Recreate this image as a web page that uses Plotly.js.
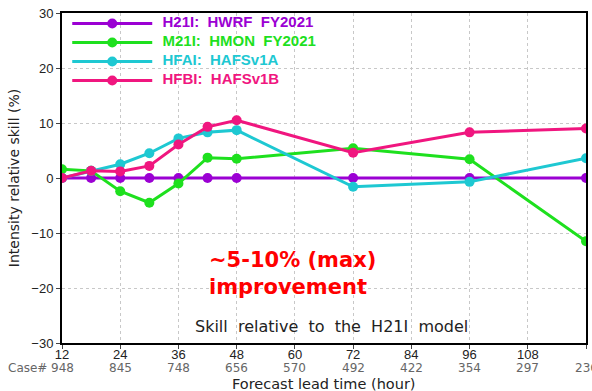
<!DOCTYPE html>
<html><head><meta charset="utf-8">
<script src="https://cdn.plot.ly/plotly-3.0.1.min.js"></script>
<style>html,body{margin:0;padding:0;background:#fff}#c{width:592px;height:391px}</style>
</head><body><div id="c"></div>
<script>
const hours = [12, 18, 24, 30, 36, 42, 48, 72, 96, 120];
const h21i = [0, 0, 0, 0, 0, 0, 0, 0, 0, 0];
const m21i = [1.6, 1.3, -2.4, -4.5, -1.0, 3.7, 3.5, 5.4, 3.4, -11.5];
const hfai = [0, 1.3, 2.5, 4.5, 7.2, 8.3, 8.7, -1.6, -0.7, 3.6];
const hfbi = [0, 1.3, 1.2, 2.2, 6.1, 9.3, 10.5, 4.6, 8.3, 9.0];
const names = ['H21I:  HWRF  FY2021', 'M21I:  HMON  FY2021', 'HFAI:  HAFSv1A', 'HFBI:  HAFSv1B'];
const colors = ['#9b00d3', '#1ee01e', '#1ec8d2', '#f0167f'];
const caseHours = [12, 24, 36, 48, 60, 72, 84, 96, 108, 120];
const caseCounts = [948, 845, 748, 656, 570, 492, 422, 354, 297, 236];

const series = [h21i, m21i, hfai, hfbi];
const font = 'Liberation Sans, Arial, sans-serif';
const wide = 'DejaVu Sans, sans-serif';
const data = series.map((ys, i) => ({
  x: hours, y: ys, type: 'scatter', mode: 'lines+markers',
  name: '&nbsp;&nbsp;<span style="font-size:15px;font-weight:bold;color:' + colors[i] + '">' +
        names[i].replace(/ /g, '&nbsp;') + '</span>',
  line: {color: colors[i], width: 3},
  marker: {color: colors[i], size: 10}
}));

const annotations = caseHours.map((h, i) => ({
  x: h, xref: 'x', y: -30, yref: 'y', yshift: -25, text: String(caseCounts[i]),
  showarrow: false, font: {family: wide, size: 12, color: '#666'}, xanchor: 'center'
}));
annotations.push({x: 12, xref: 'x', y: -30, yref: 'y', yshift: -25, xshift: -13, text: 'Case#',
  showarrow: false, xanchor: 'right', font: {family: wide, size: 12, color: '#666'}});
annotations.push({x: 0.5, xref: 'paper', y: -30, yref: 'y', yshift: -41,
  text: 'Forecast lead time (hour)', showarrow: false, font: {family: wide, size: 14.5, color: '#222'}});
annotations.push({x: 0.515, xref: 'paper', y: -27, yref: 'y',
  text: 'Skill&nbsp;&nbsp;relative&nbsp;&nbsp;to&nbsp;&nbsp;the&nbsp;&nbsp;H21I&nbsp;&nbsp;model',
  showarrow: false, font: {family: wide, size: 16, color: '#222'}});
annotations.push({x: 41.8, xref: 'x', y: -17.4, yref: 'y', xanchor: 'left', align: 'left',
  text: '<b>~5-10% (max)<br>improvement</b>', showarrow: false,
  font: {family: wide, size: 21, color: '#ff0000'}});

const layout = {
  width: 592, height: 391,
  margin: {l: 62, r: 6, t: 13, b: 48},
  paper_bgcolor: '#fff', plot_bgcolor: '#fff',
  font: {family: font, size: 13, color: '#222'},
  showlegend: true,
  legend: {x: 0.01, y: 1.012, xanchor: 'left', yanchor: 'top', bgcolor: 'rgba(0,0,0,0)',
    font: {family: font, size: 9.5}, itemwidth: 80, tracegroupgap: 0},
  xaxis: {range: [12, 120], tick0: 12, dtick: 12, showgrid: true, gridcolor: '#c8c8c8', griddash: 'dot',
    showline: true, mirror: true, linecolor: '#000', linewidth: 2, ticks: 'outside', ticklen: 4,
    ticklabelstandoff: -6, tickfont: {size: 13}, zeroline: false},
  yaxis: {range: [-30, 30], dtick: 10, showgrid: true, gridcolor: '#c8c8c8', griddash: 'dot',
    showline: true, mirror: true, linecolor: '#000', linewidth: 2, ticks: 'outside', ticklen: 4,
    tickfont: {size: 13}, zeroline: true, zerolinecolor: '#000', zerolinewidth: 1,
    title: {text: 'Intensity relative skill (%)', font: {family: wide, size: 14}, standoff: 8}},
  annotations: annotations
};
Plotly.newPlot('c', data, layout, {displayModeBar: false, staticPlot: true});
</script></body></html>
